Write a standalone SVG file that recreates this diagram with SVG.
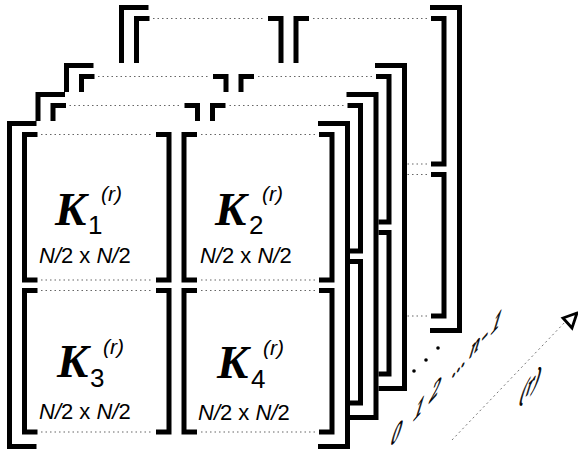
<svg xmlns="http://www.w3.org/2000/svg" xmlns:xlink="http://www.w3.org/1999/xlink" width="578" height="451" viewBox="0 0 578 451">
<style>
.bg{fill:#fff;stroke:none}
.br{fill:none;stroke:#000;stroke-width:5;stroke-linejoin:miter;stroke-linecap:butt}
.dt{fill:none;stroke:#666;stroke-width:1.2;stroke-dasharray:1.5 3}
.K{font-family:"Liberation Serif",serif;font-weight:bold;font-style:italic;font-size:47px}
.sub{font-family:"Liberation Sans",sans-serif;font-size:26px}
.sup{font-family:"Liberation Sans",sans-serif;font-style:italic;font-size:21px}
.dim{font-family:"Liberation Sans",sans-serif;font-size:22px}
.ax{font-family:"Liberation Serif",serif;font-style:italic;font-size:28px;stroke:#000;stroke-width:0.9}
.axl{fill:none;stroke:#777;stroke-width:1;stroke-dasharray:2 3}
</style>
<defs>
<g id="layer">
<rect class="bg" x="7" y="121" width="343" height="328"/>
<path class="br" d="M36.5 123.5H9.5V446.5H36.5"/>
<path class="br" d="M318 123.5H347.5V446.5H318"/>
<path class="br" d="M37.5 134.5H24.5V280H37.5M156 134.5H169V280H156"/>
<path class="br" d="M197 134.5H184V280H197M319 134.5H332V280H319"/>
<path class="br" d="M37.5 290.5H24.5V432H37.5M156 290.5H169V432H156"/>
<path class="br" d="M197 290.5H184V432H197M319 290.5H332V432H319"/>
<path class="dt" d="M41 134.5H153M41 280H153M41 290.5H153M41 432H153"/>
<path class="dt" d="M201 134.5H316M201 280H316M201 290.5H316M201 432H316"/>
</g>
</defs>
<g id="layer-n-1"><use xlink:href="#layer" href="#layer" transform="translate(112,-116)"/></g>
<g id="layer-2"><use xlink:href="#layer" href="#layer" transform="translate(57,-58)"/></g>
<g id="layer-1"><use xlink:href="#layer" href="#layer" transform="translate(28.5,-29)"/></g>
<g id="layer-0">
<use xlink:href="#layer" href="#layer"/>
<g id="K1">
<text class="K" x="55" y="225">K</text><text class="sub" x="88" y="234">1</text><text class="sup" x="101" y="201">(r)</text>
<text class="dim" x="39" y="263"><tspan font-style="italic">N/</tspan>2 x <tspan font-style="italic">N/</tspan>2</text>
</g>
<g id="K2">
<text class="K" x="215" y="225">K</text><text class="sub" x="249" y="234">2</text><text class="sup" x="262" y="201">(r)</text>
<text class="dim" x="200" y="263"><tspan font-style="italic">N/</tspan>2 x <tspan font-style="italic">N/</tspan>2</text>
</g>
<g id="K3">
<text class="K" x="57" y="377">K</text><text class="sub" x="90" y="387">3</text><text class="sup" x="103" y="354">(r)</text>
<text class="dim" x="39" y="419"><tspan font-style="italic">N/</tspan>2 x <tspan font-style="italic">N/</tspan>2</text>
</g>
<g id="K4">
<text class="K" x="217" y="378">K</text><text class="sub" x="251" y="388">4</text><text class="sup" x="263" y="355">(r)</text>
<text class="dim" x="198" y="420"><tspan font-style="italic">N/</tspan>2 x <tspan font-style="italic">N/</tspan>2</text>
</g>
</g>
<g id="connectors">
<circle cx="414" cy="371" r="1.8"/>
<circle cx="426" cy="360" r="1.8"/>
<circle cx="438" cy="348" r="1.8"/>
<path class="axl" d="M452 440L566 321"/>
<path d="M577 313L563 318L572 328Z" fill="#fff" stroke="#000" stroke-width="2.8" stroke-linejoin="miter"/>
</g>
<g id="axis-labels">
<text class="ax" transform="matrix(0.668,-0.744,-0.22,0.975,390,447)"><tspan x="0">0</tspan> <tspan x="34">1</tspan> <tspan x="58">2</tspan> <tspan x="92">...</tspan><tspan x="118">n</tspan><tspan x="135">-</tspan><tspan x="150">1</tspan></text>
<text class="ax" font-size="26" transform="matrix(0.668,-0.744,-0.22,0.975,519,404)">(r)</text>
</g>
</svg>
